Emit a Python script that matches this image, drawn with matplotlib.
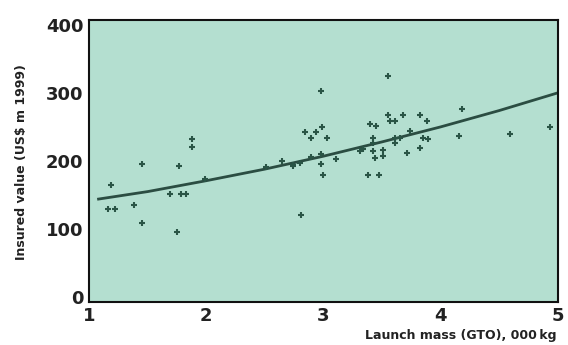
import matplotlib.pyplot as plt

# launch mass (000 kg) and insured value (US$ m 1999)
mass = [1.19, 1.16, 1.22, 1.38, 1.45, 1.45, 1.69, 1.78, 1.83, 1.77, 1.75, 1.88, 1.88,
        1.99, 2.51, 2.65, 2.74, 2.80, 2.81, 2.84, 2.98, 3.55, 4.18, 4.16, 4.59, 4.93,
        2.89, 2.94, 2.99, 3.03, 2.74, 2.89, 2.98, 2.98, 3.00, 3.11, 3.31, 3.34, 3.38,
        3.47, 3.40, 3.45, 3.42, 3.42, 3.42, 3.44, 3.51, 3.51, 3.55, 3.57, 3.61, 3.68,
        3.61, 3.61, 3.65, 3.71, 3.74, 3.82, 3.88, 3.85, 3.89, 3.82]
value = [165, 130, 130, 136, 109, 196, 151, 151, 151, 193, 95, 232, 220,
         174, 191, 200, 193, 197, 121, 243, 302, 325, 277, 237, 240, 250,
         233, 242, 250, 233, 194, 206, 210, 196, 179, 203, 215, 218, 179,
         179, 254, 251, 233, 227, 214, 204, 216, 207, 268, 259, 259, 267,
         233, 226, 233, 211, 244, 267, 259, 233, 232, 219]

# trend curve
trend_x = [1.08, 1.5, 2.0, 2.5, 3.0, 3.5, 4.0, 4.5, 5.0]
trend_y = [144, 155, 171, 188, 207, 228, 250, 274, 300]

x_ticks = [1, 2, 3, 4, 5]
y_ticks = [0, 100, 200, 300, 400]

fig = plt.figure(figsize=(5.68, 3.45), dpi=100)
ax = fig.add_axes([0.157, 0.125, 0.825, 0.817])
ax.set_facecolor('#b4dfd0')

ax.plot(trend_x, trend_y, color='#2b4d42', lw=2, zorder=2)
ax.plot(mass, value, ls='none', marker='+', ms=4, mew=1.5, color='#2a5546', zorder=3)

ax.set_xlim(1, 5)
ax.set_ylim(-7, 407)
ax.set_xticks(x_ticks)
ax.set_yticks(y_ticks)
ax.tick_params(length=0, labelsize=13, pad=4)
for lab in ax.get_xticklabels() + ax.get_yticklabels():
    lab.set_fontweight('bold')
    lab.set_color('#222222')
for s in ax.spines.values():
    s.set_linewidth(1.5)
    s.set_color('#111111')

fig.text(0.038, 0.53, 'Insured value (US$ m 1999)', rotation=90, ha='center', va='center',
         fontsize=9, fontweight='bold', color='#222222')
fig.text(0.98, 0.028, 'Launch mass (GTO), 000\u2009kg', ha='right', va='center',
         fontsize=9, fontweight='bold', color='#222222')

fig.savefig('out.png', dpi=100)
